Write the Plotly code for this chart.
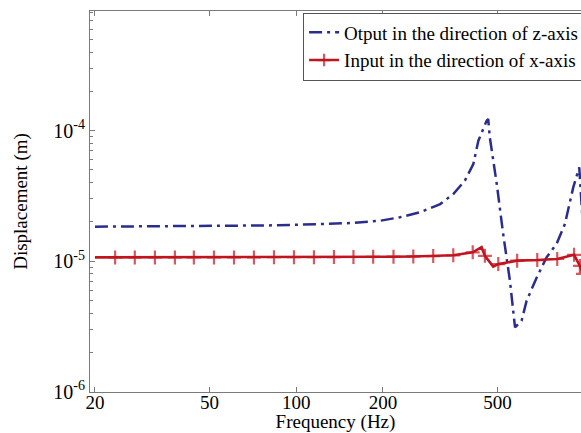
import plotly.graph_objects as go

# Output displacement along z (dash-dot) versus frequency
z_freq = [20, 30, 50, 80, 103, 154, 195, 229, 269, 316, 351, 385, 412, 429, 441,
          458, 464, 470, 497, 523, 552, 575, 606, 631, 684, 740, 802, 857, 916,
          961, 985]
z_disp = [1.84e-5, 1.85e-5, 1.86e-5, 1.88e-5, 1.905e-5, 1.96e-5, 2.04e-5, 2.17e-5,
          2.37e-5, 2.74e-5, 3.27e-5, 4.14e-5, 5.55e-5, 8.38e-5, 9.7e-5, 1.19e-4,
          1.23e-4, 8.9e-5, 3.9e-5, 1.62e-5, 7.1e-6, 3.11e-6, 3.5e-6, 4.98e-6,
          7.5e-6, 1.07e-5, 1.36e-5, 1.93e-5, 3.68e-5, 5.23e-5, 2.2e-5]

# Input displacement along x (solid with + markers)
x_freq = [20, 23.5, 27.5, 32.3, 37.9, 44.1, 51.8, 60.8, 71.3, 83.7, 98.2, 115.2,
          135.2, 158, 185, 217.6, 255, 299, 351, 410, 440, 452, 483, 503, 585,
          687, 806, 922, 966, 990]
x_disp = [1.07e-5, 1.07e-5, 1.07e-5, 1.07e-5, 1.07e-5, 1.07e-5, 1.07e-5, 1.07e-5,
          1.07e-5, 1.072e-5, 1.073e-5, 1.074e-5, 1.075e-5, 1.077e-5, 1.08e-5,
          1.083e-5, 1.088e-5, 1.095e-5, 1.11e-5, 1.17e-5, 1.28e-5, 1.10e-5,
          9.1e-6, 9.5e-6, 1.01e-5, 1.021e-5, 1.04e-5, 1.12e-5, 9.2e-6, 8.0e-6]
x_marker_size = [0, 10, 10, 10, 10, 10, 10, 10, 10, 10, 10, 10, 10, 10, 10, 10, 10,
                 10, 10, 10, 0, 10, 0, 10, 10, 10, 10, 10, 10, 10]

freq_ticks = [20, 50, 100, 200, 500]
disp_ticks = [1e-6, 1e-5, 1e-4]
disp_tick_text = ["10<sup>-6</sup>", "10<sup>-5</sup>", "10<sup>-4</sup>"]
disp_minor = [m * d for d in (1e-6, 1e-5, 1e-4) for m in range(2, 10)]

BLUE = "#2B2D8E"
RED = "#C2141E"
AXIS = "#7a7a7a"
SERIF = "Liberation Serif"

fig = go.Figure()
fig.add_trace(go.Scatter(
    x=z_freq, y=z_disp, mode="lines",
    name="Otput in the direction of z-axis",
    line=dict(color=BLUE, width=2.5, dash="13px,5px,3px,5px"),
))
fig.add_trace(go.Scatter(
    x=x_freq, y=x_disp, mode="lines+markers",
    name="Input in the direction of x-axis",
    line=dict(color=RED, width=2.6),
    marker=dict(symbol="cross-thin", size=x_marker_size, color=RED,
                line=dict(color=RED, width=2.2)),
))

fig.update_layout(
    width=581, height=433,
    margin=dict(l=90, r=0, t=11, b=41, autoexpand=False),
    paper_bgcolor="white", plot_bgcolor="white",
    font=dict(family=SERIF, size=19, color="black"),
    legend=dict(
        x=0.434, y=0.996, xanchor="left", yanchor="top",
        bordercolor="#555555", borderwidth=1, bgcolor="white",
        font=dict(family=SERIF, size=19, color="black"),
        tracegroupgap=0,
    ),
)
fig.update_xaxes(
    type="log", range=[1.2838, 2.9888],
    tickvals=freq_ticks, ticktext=[str(v) for v in freq_ticks],
    tickfont=dict(family=SERIF, size=19),
    ticks="inside", ticklen=5, tickcolor=AXIS, ticklabelstandoff=-7,
    showline=True, linecolor=AXIS, linewidth=1, mirror="ticks",
    showgrid=False, zeroline=False,
    title=dict(text="Frequency (Hz)", standoff=6,
               font=dict(family=SERIF, size=19)),
    automargin=False,
)
fig.update_yaxes(
    type="log", range=[-6.002, -3.083],
    tickvals=disp_ticks, ticktext=disp_tick_text,
    tickfont=dict(family=SERIF, size=20),
    ticks="inside", ticklen=5, tickcolor=AXIS,
    minor=dict(tickvals=disp_minor, ticks="inside", ticklen=3, tickcolor=AXIS),
    showline=True, linecolor=AXIS, linewidth=1,
    showgrid=False, zeroline=False,
    title=dict(text="Displacement (m)", standoff=20,
               font=dict(family=SERIF, size=19)),
    automargin=False,
)

fig.write_html("out.html")
